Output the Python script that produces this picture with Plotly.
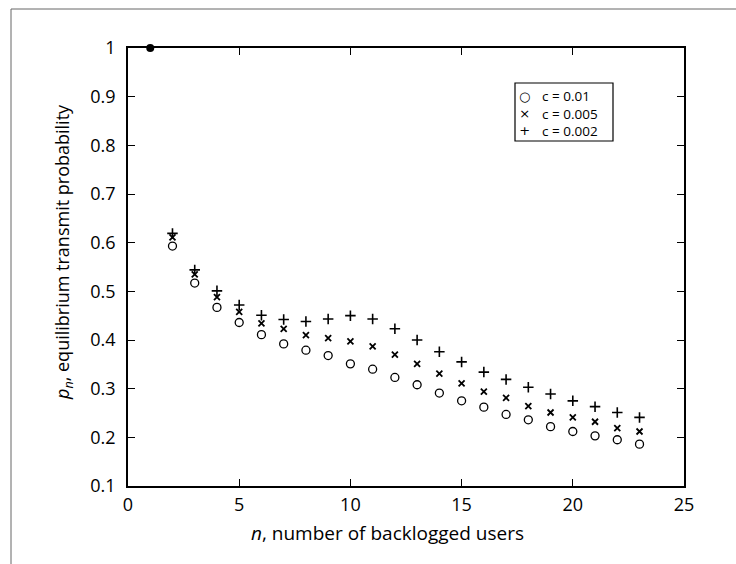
import plotly.graph_objects as go

# ---- data ----
n_users = list(range(2, 24))
p_c01 = [0.593, 0.517, 0.467, 0.436, 0.411, 0.392, 0.379, 0.368, 0.351, 0.340, 0.323,
         0.308, 0.291, 0.275, 0.262, 0.247, 0.236, 0.222, 0.212, 0.203, 0.195, 0.186]
p_c005 = [0.611, 0.535, 0.488, 0.458, 0.434, 0.423, 0.410, 0.404, 0.397, 0.387, 0.370,
          0.351, 0.331, 0.311, 0.294, 0.281, 0.264, 0.251, 0.241, 0.232, 0.219, 0.212]
p_c002 = [0.619, 0.544, 0.501, 0.472, 0.451, 0.442, 0.438, 0.443, 0.450, 0.443, 0.423,
          0.400, 0.376, 0.355, 0.334, 0.319, 0.303, 0.289, 0.275, 0.263, 0.251, 0.241]
n_single = [1]
p_single = [1.0]
series_names = ["c = 0.01", "c = 0.005", "c = 0.002"]
legend_glyphs = ["○", "×", "+"]
x_ticks = [0, 5, 10, 15, 20, 25]
y_ticks = [0.1, 0.2, 0.3, 0.4, 0.5, 0.6, 0.7, 0.8, 0.9, 1]
y_tick_text = ["0.1", "0.2", "0.3", "0.4", "0.5", "0.6", "0.7", "0.8", "0.9", "1"]
x_title = "<i>n</i>, number of backlogged users"
y_title = "<i>p<sub>n</sub></i>, equilibrium transmit probability"

FONT = "Open Sans"
W, H = 736, 564
L, R, T, B = 128, 684, 48, 486  # plot area in pixels


def px(xp):
    return (xp - L) / (R - L)


def py(yp):
    return (B - yp) / (B - T)


fig = go.Figure()
fig.add_trace(go.Scatter(x=n_single, y=p_single, mode="markers", showlegend=False,
                         cliponaxis=False,
                         marker=dict(symbol="circle", size=8, color="black")))
fig.add_trace(go.Scatter(x=n_users, y=p_c01, mode="markers", name=series_names[0],
                         showlegend=False,
                         marker=dict(symbol="circle-open", size=8, color="black",
                                     line=dict(width=1.3, color="black"))))
fig.add_trace(go.Scatter(x=n_users, y=p_c005, mode="markers", name=series_names[1],
                         showlegend=False,
                         marker=dict(symbol="x-thin-open", size=6, color="black",
                                     line=dict(width=1.8, color="black"))))
fig.add_trace(go.Scatter(x=n_users, y=p_c002, mode="markers", name=series_names[2],
                         showlegend=False,
                         marker=dict(symbol="cross-thin-open", size=7.5, color="black",
                                     line=dict(width=1.6, color="black"))))

axis_common = dict(showgrid=False, zeroline=False, showline=True, linecolor="black",
                   linewidth=1.5, mirror="allticks", ticks="inside", ticklen=7,
                   tickwidth=1.3, tickcolor="black",
                   tickfont=dict(family=FONT, size=18, color="black"))

annotations = [
    dict(text=x_title, xref="paper", yref="paper", x=px(387), y=py(533),
         xanchor="center", yanchor="middle", showarrow=False,
         font=dict(family=FONT, size=19, color="black")),
    dict(text=y_title, xref="paper", yref="paper", x=px(63), y=py(252),
         xanchor="center", yanchor="middle", showarrow=False, textangle=-90,
         font=dict(family=FONT, size=18, color="black")),
    # legend: symbols column and labels column
    dict(text="<br>".join(legend_glyphs), xref="paper", yref="paper", x=px(524),
         y=py(113.4), xanchor="center", yanchor="middle", align="center",
         showarrow=False, font=dict(family="DejaVu Sans", size=13, color="black")),
    dict(text="<br>".join(series_names), xref="paper", yref="paper", x=px(540),
         y=py(113.4), xanchor="left", yanchor="middle", align="left",
         showarrow=False, font=dict(family=FONT, size=13.5, color="black")),
]

shapes = [
    # legend box
    dict(type="rect", xref="paper", yref="paper", x0=px(515), x1=px(613),
         y0=py(141), y1=py(83), line=dict(color="black", width=1.2),
         fillcolor="rgba(0,0,0,0)"),
    # scanned page frame: top and left border
    dict(type="line", xref="paper", yref="paper", x0=px(11), x1=px(736),
         y0=py(9), y1=py(9), line=dict(color="#666", width=1)),
    dict(type="line", xref="paper", yref="paper", x0=px(11), x1=px(11),
         y0=py(9), y1=py(564), line=dict(color="#666", width=1)),
]

fig.update_layout(
    width=W, height=H,
    margin=dict(l=L, r=W - R, t=T, b=H - B),
    paper_bgcolor="white", plot_bgcolor="white",
    font=dict(family=FONT, color="black"),
    showlegend=False,
    xaxis=dict(range=[0, 25], tickvals=x_ticks, ticklabelstandoff=2, **axis_common),
    yaxis=dict(range=[0.1, 1], tickvals=y_ticks, ticktext=y_tick_text,
               ticklabelstandoff=7, **axis_common),
    annotations=annotations,
    shapes=shapes,
)

fig.write_html("out.html")
